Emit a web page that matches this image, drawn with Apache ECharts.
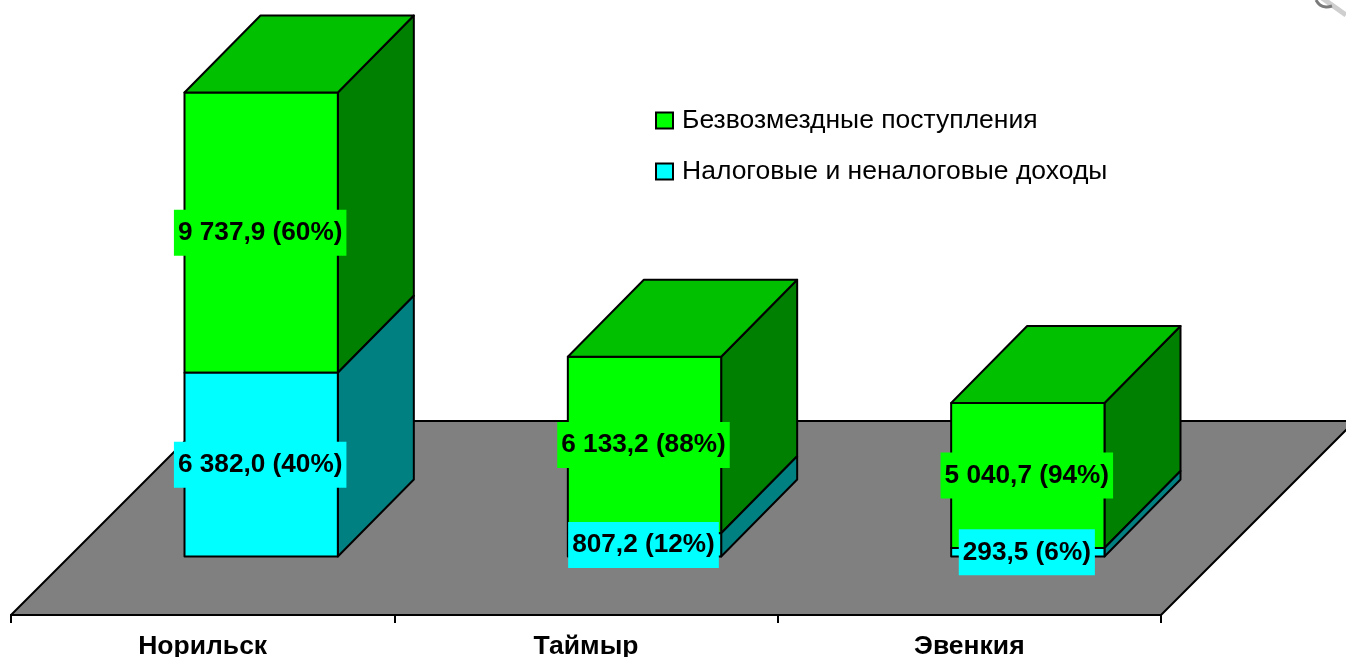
<!DOCTYPE html>
<html><head><meta charset="utf-8">
<style>html,body{margin:0;padding:0;background:#fff}#c{width:1346px;height:657px}</style>
<script src="https://cdn.jsdelivr.net/npm/echarts@6/dist/echarts.min.js"></script>
</head><body><div id="c"></div>
<script>
const categories = ['Норильск', 'Таймыр', 'Эвенкия'];
const taxIncome = [6382.0, 807.2, 293.5];
const freeReceipts = [9737.9, 6133.2, 5040.7];
const taxLabels = ['6 382,0 (40%)', '807,2 (12%)', '293,5 (6%)'];
const freeLabels = ['9 737,9 (60%)', '6 133,2 (88%)', '5 040,7 (94%)'];
const seriesNames = ['Безвозмездные поступления', 'Налоговые и неналоговые доходы'];

const FLOOR_DEPTH = 194, BAR_DX = 76, BAR_DY = 77, GAP = (FLOOR_DEPTH - BAR_DY) / 2;
const STROKE = { stroke: '#000', lineWidth: 2, lineJoin: 'round' };

function floorItem(params) {
  const c = params.coordSys, y = c.y + c.height, x = c.x, w = c.width, d = FLOOR_DEPTH;
  return { type: 'polygon', silent: true,
    shape: { points: [[x, y], [x + w, y], [x + w + d, y - d], [x + d, y - d]] },
    style: { fill: '#808080', ...STROKE } };
}

function segment(colors, labels, withTop) {
  return function (params, api) {
    const i = api.value(0);
    const lo = api.coord([i, api.value(1)]), hi = api.coord([i, api.value(2)]);
    const w = api.size([1, 0])[0] * 0.4;
    const x0 = lo[0] - w / 2 + GAP, x1 = x0 + w;
    const y0 = lo[1] - GAP, y1 = hi[1] - GAP;
    const children = [
      { type: 'polygon', shape: { points: [[x1, y0], [x1 + BAR_DX, y0 - BAR_DY], [x1 + BAR_DX, y1 - BAR_DY], [x1, y1]] },
        style: { fill: colors.side, ...STROKE } },
      { type: 'polygon', shape: { points: [[x0, y0], [x1, y0], [x1, y1], [x0, y1]] },
        style: { fill: colors.front, ...STROKE } }
    ];
    if (withTop) children.push({ type: 'polygon',
      shape: { points: [[x0, y1], [x1, y1], [x1 + BAR_DX, y1 - BAR_DY], [x0 + BAR_DX, y1 - BAR_DY]] },
      style: { fill: colors.top, ...STROKE } });
    children.push({ type: 'text', z2: 100, style: {
      x: (x0 + x1) / 2 - 1, y: (y0 + y1) / 2, text: labels[i], align: 'center', verticalAlign: 'middle',
      font: 'bold 26.2px "Liberation Sans", Arial, sans-serif', fill: '#000',
      backgroundColor: colors.front, padding: [10, 4, 10, 4] } });
    return { type: 'group', children };
  };
}

const greenColors = { front: '#00ff00', side: '#008000', top: '#00c000' };
const cyanColors = { front: '#00ffff', side: '#008080' };

const chart = echarts.init(document.getElementById('c'), null, { renderer: 'canvas' });
chart.setOption({
  animation: false,
  backgroundColor: '#fff',
  legend: {
    orient: 'vertical', left: 655, top: 107, padding: 0, itemWidth: 17, itemHeight: 16, itemGap: 24,
    icon: 'rect', data: seriesNames,
    itemStyle: { borderColor: '#000', borderWidth: 2 },
    textStyle: { color: '#000', fontSize: 26.5, fontFamily: '"Liberation Sans", Arial, sans-serif', padding: [0, 0, 0, 4] }
  },
  grid: { left: 11, top: 39.4, width: 1150, height: 575.6, outerBoundsMode: 'none', containLabel: false },
  xAxis: {
    type: 'category', data: categories, boundaryGap: true,
    axisLine: { show: true, lineStyle: { color: '#000', width: 2 } },
    axisTick: { show: true, alignWithLabel: false, length: 8, lineStyle: { color: '#000', width: 2 } },
    axisLabel: { color: '#000', fontSize: 26.5, fontWeight: 'bold', margin: 18, fontFamily: '"Liberation Sans", Arial, sans-serif' },
    splitLine: { show: false }
  },
  yAxis: { type: 'value', min: 0, max: 20000, show: false, splitLine: { show: false } },
  series: [
    { type: 'custom', name: 'floor', clip: false, silent: true, z: 1, renderItem: floorItem,
      encode: { x: 0, y: 1 }, data: [[0, 0]] },
    { type: 'custom', name: seriesNames[0], clip: false, z: 2, itemStyle: { color: greenColors.front },
      renderItem: segment(greenColors, freeLabels, true), encode: { x: 0, y: [1, 2] },
      data: categories.map((_, i) => [i, taxIncome[i], taxIncome[i] + freeReceipts[i]]) },
    { type: 'custom', name: seriesNames[1], clip: false, z: 3, itemStyle: { color: cyanColors.front },
      renderItem: segment(cyanColors, taxLabels, false), encode: { x: 0, y: [1, 2] },
      data: categories.map((_, i) => [i, 0, taxIncome[i]]) }
  ],
  graphic: [
    { type: 'polyline', silent: true, shape: { points: [[1322, -2], [1346, 15]] },
      style: { stroke: '#cfcfcf', lineWidth: 5, fill: null } },
    { type: 'polyline', silent: true, shape: { points: [[1316, 0], [1320, 5], [1326, 7], [1332, 6]], smooth: 0.4 },
      style: { stroke: '#7a7a7a', lineWidth: 3, fill: null } }
  ]
});
</script></body></html>
